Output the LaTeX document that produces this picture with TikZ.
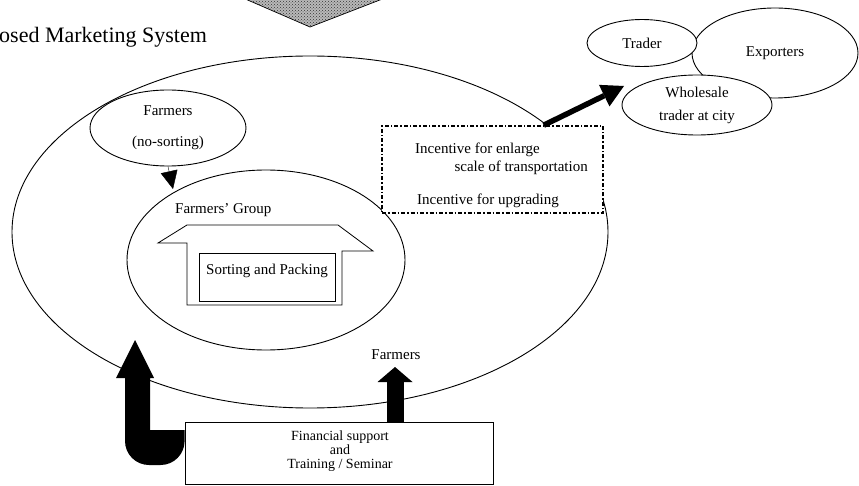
\documentclass[tikz,border=0pt]{standalone}
\usepackage{fontspec}
\setmainfont{Liberation Serif}
\usetikzlibrary{shapes.geometric,arrows.meta,patterns,calc}

\begin{document}
\begin{tikzpicture}[x=1pt,y=-1pt,
  every node/.style={font=\fontsize{15}{17}\selectfont},
  oval/.style={draw, ellipse, inner sep=0pt, line width=0.9pt, fill=white},
  txt/.style={inner sep=0pt},
  plainbox/.style={draw, line width=0.8pt, inner sep=0pt},
  dashbox/.style={draw, fill=white, line width=1.6pt, inner sep=0pt,
    dash pattern=on 4pt off 2pt on 1.5pt off 2pt},
  blockarrow/.style={line width=#1, draw=black},
]
\useasboundingbox (0,0) rectangle (859,486);

% shaded chevron at the top edge
\fill[gray!55] (243,-2) -- (385,-2) -- (310,27) -- cycle;
\fill[pattern=crosshatch dots, pattern color=black!80] (243,-2) -- (385,-2) -- (310,27) -- cycle;
\draw[line width=0.7pt] (243,-2) -- (310,27) -- (385,-2);

% title
\node[txt, anchor=west, font=\fontsize{22}{26}\selectfont] (title) at (-1,37) {osed Marketing System};

% outer marketing ellipse
\node[oval, fill=none, minimum width=596pt, minimum height=352pt] (market) at (310,232) {};

% farmers without sorting
\node[oval, minimum width=156pt, minimum height=76pt, align=center] (farm) at (168,128)
  {Farmers\\[14pt](no-sorting)};

% farmers' group
\node[oval, minimum width=278pt, minimum height=180pt] (grp) at (266,260) {};
\node[txt, anchor=west] (grplabel) at (175,210) {Farmers' Group};
\coordinate (grptip) at (173,189);
\draw[-{Triangle[length=18pt,width=17pt]}] (farm.south) -- (grptip);

% house-shaped frame with the sorting box
\draw[line width=0.8pt] (187,225) -- (338,225) -- (373,251) -- (342,251) -- (342,305)
  -- (187,305) -- (187,243) -- (158,243) -- cycle;
\node[plainbox, minimum width=136pt, minimum height=48pt] (sort) at (267,277) {};
\node[txt] (sorttxt) at (267,271) {Sorting and Packing};

% incentive box
\node[dashbox, minimum width=221pt, minimum height=87pt] (inc) at (492.5,169.5) {};
\node[txt, anchor=west] (inc1) at (415,150) {Incentive for enlarge};
\node[txt, anchor=east] (inc2) at (588,168) {scale of transportation};
\node[txt, anchor=west] (inc3) at (417,201) {Incentive for upgrading};

% buyers
\node[oval, minimum width=166pt, minimum height=90pt] (exp) at (775,53) {Exporters};
\node[oval, minimum width=110pt, minimum height=47pt] (trader) at (642,43) {Trader};
\node[oval, minimum width=150pt, minimum height=60pt, align=center] (whole) at (697,105)
  {Wholesale\\[6pt]trader at city};

\coordinate (buyertip) at (624,86);
\draw[blockarrow=5.5pt, -{Triangle[length=22pt,width=24pt,line width=0pt]}]
  ($(inc.north west)!0.73!(inc.north east)$) -- (buyertip);

% support box
\node[plainbox, fill=white, minimum width=308pt, minimum height=62pt] (fin) at (339,453) {};
\node[txt, align=center, font=\fontsize{14}{14}\selectfont] (fintxt) at (340,451)
  {Financial support\\and\\Training / Seminar};

% small arrow to farmers
\node[txt] (farmlab) at (396,355) {Farmers};
\coordinate (smalltip) at (395,367);
\draw[blockarrow=17pt, -{Triangle[length=15pt,width=35pt,line width=0pt]}]
  (fin.north -| smalltip) -- (smalltip);

% bent arrow into the marketing system
\coordinate (bigtip) at (135,340);
\fill ($(fin.west)+(0,-23)$) -- ($(bigtip)+(15,90)$) -- ($(bigtip)+(15,38)$)
  -- ($(bigtip)+(19,38)$) -- (bigtip) -- ($(bigtip)+(-19,38)$) -- ($(bigtip)+(-10,38)$)
  [rounded corners=24pt] -- ($(bigtip)+(-10,125)$) -- ($(fin.west)+(0,12)$) [sharp corners] -- cycle;
\end{tikzpicture}
\end{document}
